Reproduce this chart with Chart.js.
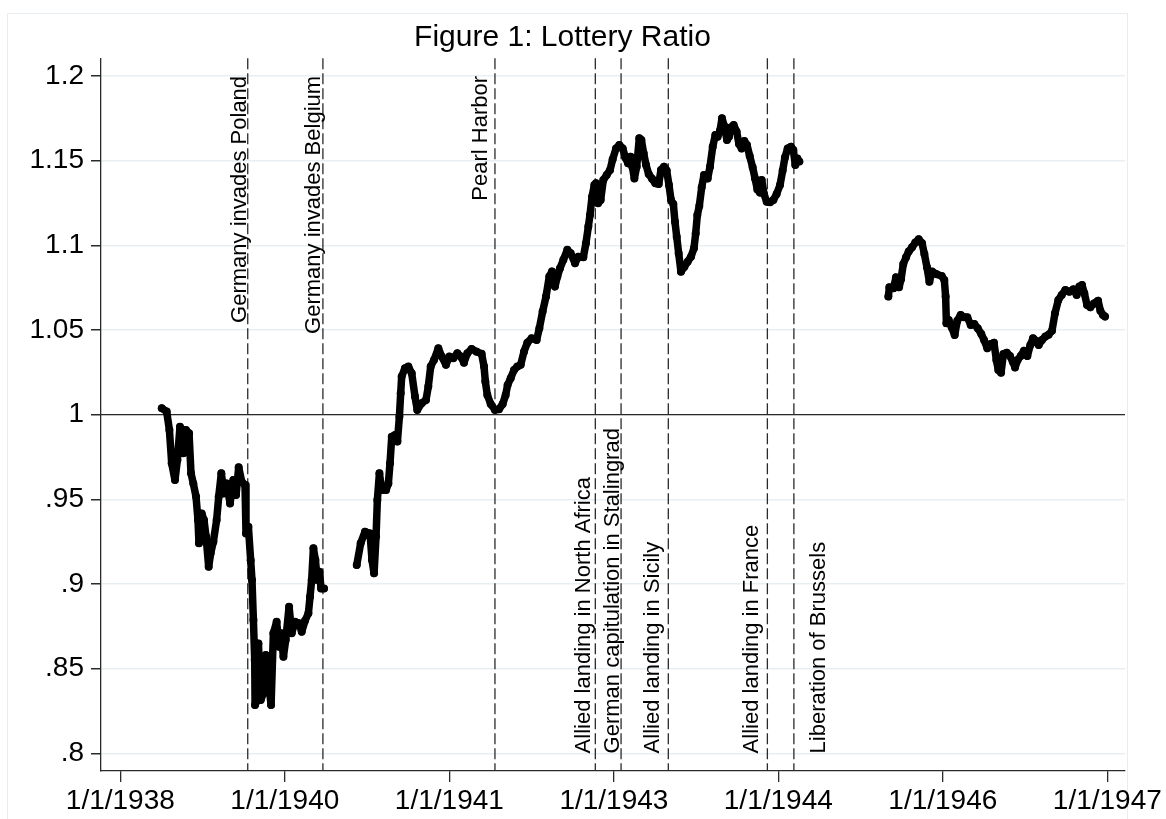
<!DOCTYPE html>
<html>
<head>
<meta charset="utf-8">
<title>Figure 1: Lottery Ratio</title>
<script src="https://cdn.jsdelivr.net/npm/chart.js@4"></script>
<style>
  html, body { margin: 0; padding: 0; background: #fff; }
</style>
</head>
<body>
<canvas id="grafico" width="1166" height="819"></canvas>
<script>
// dates are decimal years, values are the lottery ratio
const seg1Years = [1938.878, 1938.923, 1938.948, 1938.969, 1938.999, 1939.021, 1939.045, 1939.076, 1939.100, 1939.128,
    1939.146, 1939.167, 1939.192, 1939.210, 1939.219, 1939.244, 1939.265, 1939.284, 1939.308, 1939.326,
    1939.351, 1939.381, 1939.400, 1939.424, 1939.448, 1939.473, 1939.504, 1939.534, 1939.559, 1939.583,
    1939.611, 1939.641, 1939.650, 1939.672, 1939.693, 1939.705, 1939.718, 1939.730, 1939.733, 1939.754,
    1939.764, 1939.785, 1939.809, 1939.831, 1939.855, 1939.880, 1939.901, 1939.931, 1939.953, 1939.971,
    1939.993, 1940.014, 1940.045, 1940.069, 1940.099, 1940.136, 1940.161, 1940.191, 1940.222, 1940.237,
    1940.252, 1940.268, 1940.286, 1940.304, 1940.323, 1940.338, 1940.365];
const seg1Values = [1.0038, 1.0018, 0.9910, 0.9713, 0.9614, 0.9732, 0.9929, 0.9772, 0.9910, 0.9890,
    0.9654, 0.9594, 0.9516, 0.9378, 0.9240, 0.9417, 0.9378, 0.9280, 0.9102, 0.9181,
    0.9250, 0.9378, 0.9516, 0.9654, 0.9535, 0.9594, 0.9476, 0.9614, 0.9525, 0.9689,
    0.9604, 0.9585, 0.9299, 0.9338, 0.9141, 0.9023, 0.8787, 0.8551, 0.8285, 0.8315,
    0.8649, 0.8315, 0.8354, 0.8581, 0.8433, 0.8285, 0.8709, 0.8777, 0.8630, 0.8709,
    0.8571, 0.8669, 0.8866, 0.8709, 0.8777, 0.8768, 0.8718, 0.8783, 0.8827, 0.8925,
    0.9024, 0.9211, 0.9142, 0.9024, 0.9073, 0.8974, 0.8974];

const seg2Years = [1940.665, 1940.701, 1940.741, 1940.787, 1940.805, 1940.824, 1940.842, 1940.854, 1940.873, 1940.894,
    1940.934, 1940.955, 1940.970, 1940.986, 1941.016, 1941.038, 1941.056, 1941.068,
    1941.077, 1941.107, 1941.138, 1941.169, 1941.199, 1941.220, 1941.260, 1941.300, 1941.321, 1941.343,
    1941.373, 1941.413, 1941.444, 1941.483, 1941.514, 1941.550, 1941.587, 1941.618, 1941.648, 1941.679,
    1941.718, 1941.764, 1941.810, 1941.832, 1941.844, 1941.862, 1941.893, 1941.932, 1941.969, 1942.003,
    1942.030, 1942.048, 1942.076, 1942.107, 1942.137, 1942.168, 1942.198, 1942.229, 1942.268, 1942.314,
    1942.339, 1942.369, 1942.400, 1942.430, 1942.455, 1942.482, 1942.504, 1942.528, 1942.559, 1942.595,
    1942.626, 1942.666, 1942.696, 1942.742, 1942.766, 1942.788,
    1942.803, 1942.822, 1942.843, 1942.858, 1942.877, 1942.901, 1942.925, 1942.956, 1942.987, 1943.011,
    1943.042, 1943.072, 1943.103, 1943.127, 1943.152, 1943.176, 1943.191, 1943.210, 1943.231, 1943.255,
    1943.274, 1943.295, 1943.317, 1943.341, 1943.372, 1943.402, 1943.433, 1943.454, 1943.482, 1943.506,
    1943.527, 1943.546, 1943.567, 1943.582, 1943.598, 1943.616, 1943.637, 1943.668, 1943.698, 1943.729,
    1943.756, 1943.772, 1943.787, 1943.805, 1943.827, 1943.848, 1943.882, 1943.903, 1943.928, 1943.952,
    1943.973, 1943.995, 1944.013, 1944.034, 1944.059, 1944.077, 1944.092, 1944.120, 1944.147, 1944.169,
    1944.193, 1944.218, 1944.242, 1944.267, 1944.294, 1944.316, 1944.337, 1944.361, 1944.377, 1944.398,
    1944.423, 1944.453, 1944.484, 1944.514, 1944.545, 1944.569, 1944.590, 1944.615, 1944.646, 1944.667,
    1944.685, 1944.704, 1944.722];
const seg2Values = [0.9112, 0.9240, 0.9309, 0.9299, 0.9142, 0.9063, 0.9280, 0.9496, 0.9654, 0.9555,
    0.9555, 0.9594, 0.9713, 0.9870, 0.9880, 0.9841, 0.9988, 1.0126,
    1.0225, 1.0274, 1.0284, 1.0244, 1.0107, 1.0028, 1.0067, 1.0087, 1.0166, 1.0284,
    1.0323, 1.0392, 1.0343, 1.0294, 1.0343, 1.0333, 1.0362, 1.0343, 1.0307, 1.0362,
    1.0388, 1.0372, 1.0359, 1.0284, 1.0195, 1.0116, 1.0063, 1.0028, 1.0032, 1.0063,
    1.0116, 1.0175, 1.0215, 1.0264, 1.0284, 1.0294, 1.0372, 1.0425, 1.0451, 1.0441,
    1.0510, 1.0609, 1.0697, 1.0815, 1.0845, 1.0756, 1.0815, 1.0864, 1.0914, 1.0973,
    1.0953, 1.0894, 1.0933, 1.0929, 1.1012, 1.1111,
    1.1179, 1.1287, 1.1356, 1.1366, 1.1248, 1.1267, 1.1385, 1.1415, 1.1445, 1.1508,
    1.1572, 1.1592, 1.1572, 1.1519, 1.1484, 1.1523, 1.1464, 1.1395, 1.1464, 1.1632,
    1.1622, 1.1543, 1.1474, 1.1421, 1.1393, 1.1366, 1.1362, 1.1445, 1.1464, 1.1441,
    1.1356, 1.1267, 1.1244, 1.1139, 1.1051, 1.0952, 1.0844, 1.0873, 1.0903, 1.0933,
    1.0982, 1.1070, 1.1179, 1.1232, 1.1342, 1.1415, 1.1395, 1.1464, 1.1582, 1.1651,
    1.1641, 1.1677, 1.1750, 1.1704, 1.1622, 1.1641, 1.1695, 1.1710, 1.1671, 1.1598,
    1.1572, 1.1616, 1.1592, 1.1527, 1.1460, 1.1395, 1.1330, 1.1311, 1.1385, 1.1303,
    1.1257, 1.1254, 1.1267, 1.1303, 1.1356, 1.1441, 1.1519, 1.1572, 1.1582, 1.1563,
    1.1474, 1.1513, 1.1494];

const seg3Years = [1945.538, 1945.547, 1945.584, 1945.608, 1945.636, 1945.654, 1945.675, 1945.700, 1945.724, 1945.755,
    1945.785, 1945.816, 1945.847, 1945.868, 1945.892, 1945.914, 1945.938, 1945.981, 1946.027, 1946.051,
    1946.063, 1946.070, 1946.091, 1946.118, 1946.146, 1946.170, 1946.201, 1946.231, 1946.262, 1946.293,
    1946.326, 1946.357, 1946.390, 1946.415, 1946.445, 1946.476, 1946.506, 1946.528, 1946.546, 1946.571,
    1946.592, 1946.623, 1946.653, 1946.678, 1946.699, 1946.723, 1946.751, 1946.781, 1946.812, 1946.839,
    1946.864, 1946.891, 1946.916, 1946.946, 1946.977, 1947.007, 1947.038, 1947.065, 1947.096, 1947.127,
    1947.160, 1947.197, 1947.234, 1947.264, 1947.288, 1947.313, 1947.334, 1947.359, 1947.389, 1947.423,
    1947.460, 1947.481, 1947.505, 1947.524];
const seg3Values = [1.0697, 1.0752, 1.0746, 1.0811, 1.0752, 1.0799, 1.0890, 1.0929, 1.0963, 1.0988,
    1.1016, 1.1036, 1.1012, 1.0949, 1.0870, 1.0785, 1.0845, 1.0829, 1.0819, 1.0795,
    1.0697, 1.0539, 1.0559, 1.0516, 1.0470, 1.0555, 1.0589, 1.0575, 1.0575, 1.0529,
    1.0535, 1.0510, 1.0476, 1.0441, 1.0392, 1.0417, 1.0425, 1.0323, 1.0264, 1.0248,
    1.0358, 1.0366, 1.0346, 1.0313, 1.0279, 1.0323, 1.0346, 1.0378, 1.0346, 1.0411,
    1.0451, 1.0437, 1.0411, 1.0441, 1.0461, 1.0472, 1.0496, 1.0598, 1.0677, 1.0707,
    1.0736, 1.0726, 1.0740, 1.0707, 1.0756, 1.0766, 1.0717, 1.0648, 1.0634, 1.0657,
    1.0673, 1.0614, 1.0589, 1.0579];

// axis ticks (the labels show only the year of each tick date)
const xTickValues = [1938.498, 1940.006, 1941.514, 1943.022, 1944.529, 1946.037, 1947.545];
const xTickLabels = ['1/1/1938', '1/1/1940', '1/1/1941', '1/1/1943', '1/1/1944', '1/1/1946', '1/1/1947'];
const yTickValues = [0.8, 0.85, 0.9, 0.95, 1, 1.05, 1.1, 1.15, 1.2];
const yTickLabels = ['.8', '.85', '.9', '.95', '1', '1.05', '1.1', '1.15', '1.2'];

// war events
const eventNames = ['Germany invades Poland', 'Germany invades Belgium', 'Pearl Harbor',
    'Allied landing in North Africa', 'German capitulation in Stalingrad', 'Allied landing in Sicily',
    'Allied landing in France', 'Liberation of Brussels'];
const eventDates = [1939.666, 1940.355, 1941.932, 1942.852, 1943.088, 1943.521, 1944.429, 1944.672];

const refLine = 1;

// where each event label sits: top/bottom of plot, px offset of its baseline from the line
const labelPlace = [
    { at: 'top', dx: -2 }, { at: 'top', dx: -3 }, { at: 'top', dx: -8 },
    { at: 'bottom', dx: -5 }, { at: 'bottom', dx: -2 }, { at: 'bottom', dx: -9 },
    { at: 'bottom', dx: -9 }, { at: 'bottom', dx: 31 }
];

const FONT = "'Liberation Sans', Arial, Helvetica, sans-serif";

function toPoints(xs, ys) {
    return xs.map((v, i) => ({ x: v, y: ys[i] }));
}

function serie(xs, ys) {
    return {
        data: toPoints(xs, ys),
        borderColor: '#000',
        backgroundColor: '#000',
        borderWidth: 7.5,
        borderJoinStyle: 'round',
        borderCapStyle: 'round',
        pointRadius: 4,
        pointBorderWidth: 0,
        pointBackgroundColor: '#000',
        tension: 0,
        fill: false
    };
}

const frame = {
    id: 'frame',
    beforeDraw(chart) {
        const ctx = chart.ctx;
        ctx.save();
        ctx.fillStyle = '#fff';
        ctx.fillRect(0, 0, chart.width, chart.height);
        ctx.strokeStyle = '#e7eef1';
        ctx.lineWidth = 1;
        ctx.strokeRect(7.5, 13.5, 1120, 830);
        ctx.restore();
    }
};

const eventos = {
    id: 'eventos',
    beforeDatasetsDraw(chart) {
        const { ctx, chartArea: a, scales: { x, y } } = chart;
        ctx.save();
        ctx.strokeStyle = '#2a2a2a';
        ctx.lineWidth = 1.4;
        const y1 = y.getPixelForValue(refLine);
        ctx.beginPath();
        ctx.moveTo(a.left, y1);
        ctx.lineTo(a.right, y1);
        ctx.stroke();

        ctx.setLineDash([11, 4]);
        ctx.lineWidth = 1.3;
        eventDates.forEach(d => {
            const px = x.getPixelForValue(d);
            ctx.beginPath();
            ctx.moveTo(px, a.top);
            ctx.lineTo(px, a.bottom);
            ctx.stroke();
        });
        ctx.restore();
    },
    afterDatasetsDraw(chart) {
        const { ctx, scales: { x, y } } = chart;
        ctx.save();
        ctx.fillStyle = '#000';
        ctx.font = '22px ' + FONT;
        ctx.textBaseline = 'alphabetic';
        eventNames.forEach((name, i) => {
            const p = labelPlace[i];
            const px = x.getPixelForValue(eventDates[i]) + p.dx;
            const py = p.at === 'top' ? y.getPixelForValue(1.2) : y.getPixelForValue(0.8);
            ctx.save();
            ctx.translate(px, py);
            ctx.rotate(-Math.PI / 2);
            ctx.textAlign = p.at === 'top' ? 'right' : 'left';
            ctx.fillText(name, 0, 0);
            ctx.restore();
        });
        ctx.restore();
    }
};

const config = {
    type: 'line',
    data: {
        datasets: [
            serie(seg1Years, seg1Values),
            serie(seg2Years, seg2Values),
            serie(seg3Years, seg3Values)
        ]
    },
    options: {
        responsive: false,
        animation: false,
        layout: { padding: { left: 0, right: 41, top: 0, bottom: 0 } },
        plugins: {
            legend: { display: false },
            tooltip: { enabled: false },
            title: {
                display: true,
                text: 'Figure 1: Lottery Ratio',
                color: '#000',
                font: { family: FONT, size: 30, weight: 'normal', lineHeight: 1.2 },
                padding: { top: 20, bottom: 2.3 }
            }
        },
        scales: {
            x: {
                type: 'linear',
                min: 1938.321,
                max: 1947.707,
                afterBuildTicks: s => { s.ticks = xTickValues.map(v => ({ value: v })); },
                afterFit: s => { s.height = 48; },
                ticks: {
                    callback: (v, i) => xTickLabels[i],
                    color: '#000',
                    font: { family: FONT, size: 28 },
                    padding: 2,
                    maxRotation: 0,
                    autoSkip: false
                },
                grid: { drawOnChartArea: false, tickColor: '#2a2a2a', tickLength: 11, lineWidth: 1.3 },
                border: { color: '#2a2a2a', width: 1.3 }
            },
            y: {
                type: 'linear',
                min: 0.7896,
                max: 1.2104,
                afterBuildTicks: s => { s.ticks = yTickValues.map(v => ({ value: v })); },
                afterFit: s => { s.width = 101; },
                ticks: {
                    callback: (v, i) => yTickLabels[i],
                    color: '#000',
                    font: { family: FONT, size: 28 },
                    padding: 7
                },
                grid: { color: '#e8eff2', lineWidth: 1.5, tickColor: '#2a2a2a', tickLength: 10 },
                border: { color: '#2a2a2a', width: 1.3 }
            }
        }
    },
    plugins: [frame, eventos]
};

const grafico = new Chart(document.getElementById('grafico'), config);
</script>
</body>
</html>
